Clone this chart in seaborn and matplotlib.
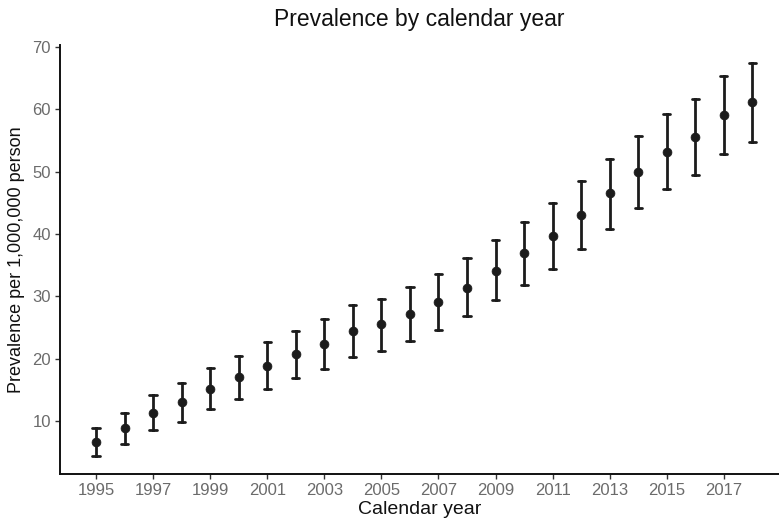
import numpy as np
import pandas as pd
import matplotlib
matplotlib.use("Agg")
import matplotlib.pyplot as plt
import seaborn as sns

years = list(range(1995, 2019))
prevalence = [6.6, 8.8, 11.3, 13.0, 15.2, 17.0, 18.9, 20.7, 22.3, 24.4, 25.5, 27.2,
              29.1, 31.4, 34.1, 36.9, 39.6, 43.1, 46.5, 50.0, 53.2, 55.5, 59.1, 61.1]
lower = [4.4, 6.3, 8.5, 9.9, 11.9, 13.5, 15.2, 16.9, 18.3, 20.3, 21.2, 22.8,
         24.6, 26.8, 29.4, 31.8, 34.4, 37.6, 40.8, 44.1, 47.2, 49.4, 52.8, 54.7]
upper = [8.8, 11.3, 14.2, 16.1, 18.5, 20.5, 22.6, 24.5, 26.3, 28.6, 29.6, 31.5,
         33.6, 36.2, 39.0, 41.9, 44.9, 48.5, 52.1, 55.8, 59.2, 61.6, 65.3, 67.4]
xtick_years = list(range(1995, 2018, 2))
ytick_vals = [10, 20, 30, 40, 50, 60, 70]

# long form: each year has lower / estimate / upper -> median = estimate, range = CI
df = pd.DataFrame({
    "year": years * 3,
    "value": lower + prevalence + upper,
})

sns.set_theme(style="ticks")
plt.rcParams["font.family"] = ["Liberation Sans", "DejaVu Sans"]

fig = plt.figure(figsize=(7.79, 5.24), dpi=100)
ax = fig.add_axes([60 / 779, 50 / 524, 1 - 60 / 779, 429 / 524])

dark = "#1c1c1c"
sns.pointplot(data=df, x="year", y="value", estimator="median",
              errorbar=lambda v: (v.min(), v.max()), native_scale=True,
              linestyle="none", color=dark, capsize=0.25,
              err_kws={"linewidth": 2.0}, markersize=6.4,
              markeredgewidth=0.5, ax=ax)

ax.set_xlim(1993.74, 2018.93)
ax.set_ylim(1.5, 70.32)
ax.set_xticks(xtick_years)
ax.set_xticklabels([str(y) for y in xtick_years])
ax.set_yticks(ytick_vals)
ax.set_yticklabels([str(v) for v in ytick_vals])

for side in ["top", "right"]:
    ax.spines[side].set_visible(False)
for side in ["left", "bottom"]:
    ax.spines[side].set_color("#111111")
    ax.spines[side].set_linewidth(1.4)

ax.tick_params(axis="both", colors="#333333", labelcolor="#6b6b6b",
               labelsize=12, length=3.5, width=1.0, pad=3)

ax.set_xlabel("Calendar year", fontsize=14, color="#111111", labelpad=2)
ax.set_ylabel("Prevalence per 1,000,000 person", fontsize=13, color="#111111", labelpad=5)
ax.set_title("Prevalence by calendar year", fontsize=16.5, color="#111111", pad=14)

fig.savefig("out.png", dpi=100)
